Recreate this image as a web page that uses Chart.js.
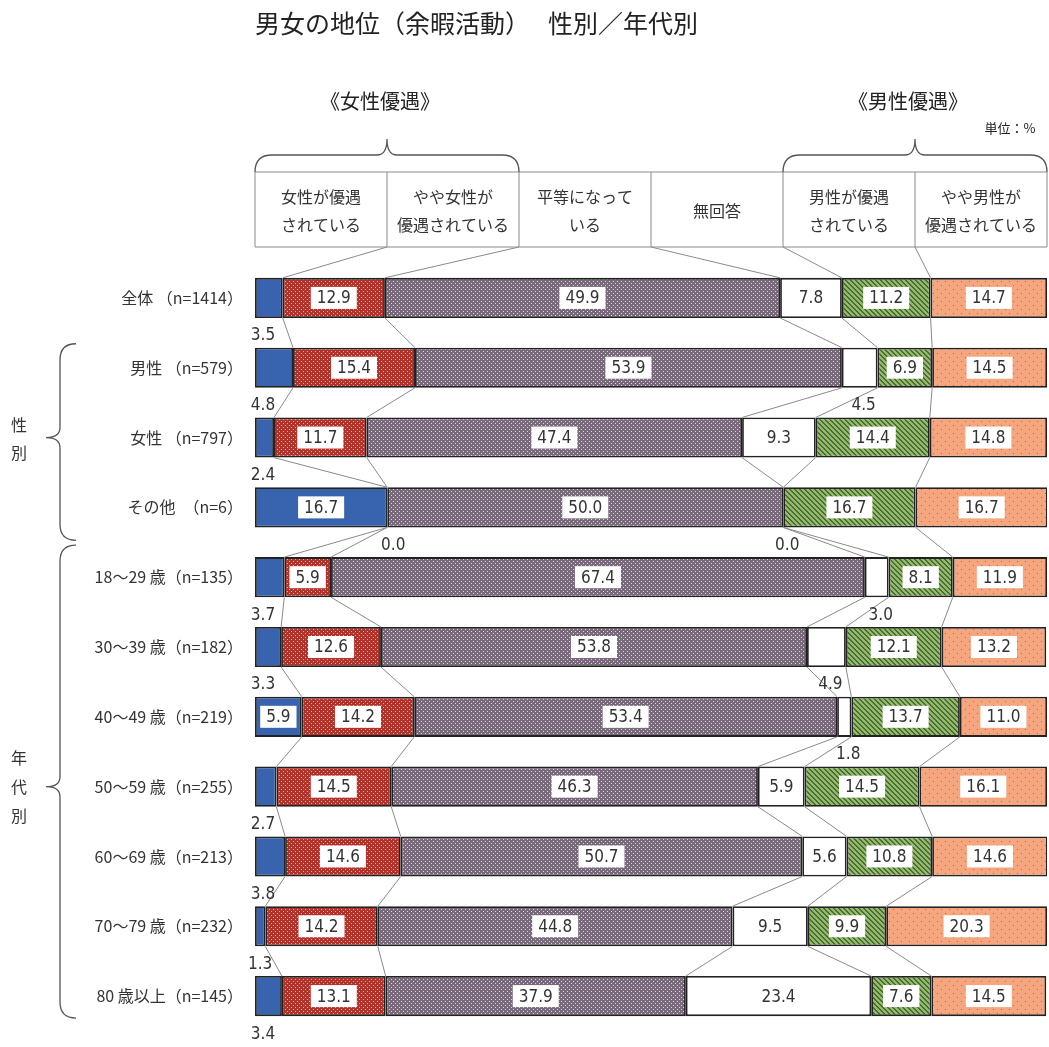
<!DOCTYPE html>
<html lang="ja">
<head>
<meta charset="utf-8">
<title>男女の地位（余暇活動）性別／年代別</title>
<script src="https://cdn.jsdelivr.net/npm/chart.js@4.4.0/dist/chart.umd.min.js"></script>
<style>
  html, body { margin: 0; padding: 0; background: #fff; }
  #wrap { position: relative; width: 1049px; height: 1047px; }
</style>
</head>
<body>
<div id="wrap"><canvas id="chart"></canvas></div>
<script>
// ---- data ----
const categories = [
  "全体 （n=1414）", "男性 （n=579）", "女性 （n=797）", "その他　（n=6）",
  "18～29 歳（n=135）", "30～39 歳（n=182）", "40～49 歳（n=219）", "50～59 歳（n=255）",
  "60～69 歳（n=213）", "70～79 歳（n=232）", "80 歳以上（n=145）"
];
const seriesNames = [
  ["女性が優遇", "されている"],
  ["やや女性が", "優遇されている"],
  ["平等になって", "いる"],
  ["無回答"],
  ["男性が優遇", "されている"],
  ["やや男性が", "優遇されている"]
];
const womenFavored   = [3.5, 4.8, 2.4, 16.7, 3.7, 3.3, 5.9, 2.7, 3.8, 1.3, 3.4];
const somewhatWomen  = [12.9, 15.4, 11.7, 0.0, 5.9, 12.6, 14.2, 14.5, 14.6, 14.2, 13.1];
const equalValues    = [49.9, 53.9, 47.4, 50.0, 67.4, 53.8, 53.4, 46.3, 50.7, 44.8, 37.9];
const noAnswer       = [7.8, 4.5, 9.3, 0.0, 3.0, 4.9, 1.8, 5.9, 5.6, 9.5, 23.4];
const menFavored     = [11.2, 6.9, 14.4, 16.7, 8.1, 12.1, 13.7, 14.5, 10.8, 9.9, 7.6];
const somewhatMen    = [14.7, 14.5, 14.8, 16.7, 11.9, 13.2, 11.0, 16.1, 14.6, 20.3, 14.5];

const allSeries = [womenFavored, somewhatWomen, equalValues, noAnswer, menFavored, somewhatMen];

// ---- fonts / colours ----
const JP = "'Noto Sans CJK JP', 'Noto Sans', sans-serif";
const NUM = "'DejaVu Sans Condensed', 'Liberation Sans Narrow', sans-serif";
const TEXT = "#333";
const LINE = "#8a8a8a";

const canvas = document.getElementById("chart");
const ctx0 = canvas.getContext("2d");

// small pixel tiles used as fill patterns
function pattern(size, bg, fg, hit) {
  const c = document.createElement("canvas");
  c.width = c.height = size;
  const g = c.getContext("2d");
  g.fillStyle = bg;
  g.fillRect(0, 0, size, size);
  g.fillStyle = fg;
  for (let y = 0; y < size; y++)
    for (let x = 0; x < size; x++)
      if (hit(x, y)) g.fillRect(x, y, 1, 1);
  return ctx0.createPattern(c, "repeat");
}

const fills = [
  "#3863ae",
  pattern(4, "#b0342b", "#e9aaa0", (x, y) => (x === 1 && y === 1) || (x === 3 && y === 3)),
  pattern(4, "#78697b", "#dcd3dd", (x, y) => (x === 1 && y === 1) || (x === 3 && y === 3)),
  "#ffffff",
  pattern(5, "#93b86f", "#4a6c2d", (x, y) => ((x - y + 10) % 5) < 2),
  pattern(8, "#f5a67e", "#c2623a", (x, y) => (x === 1 && y === 1) || (x === 5 && y === 5))
];

// ---- drawing helpers ----
function hBrace(ctx, x1, x2, xTip, yBase, yLine, yTip) {
  const r = yBase - yLine;
  ctx.beginPath();
  ctx.moveTo(x1, yBase);
  ctx.quadraticCurveTo(x1, yLine, x1 + r, yLine);
  ctx.lineTo(xTip - 10, yLine);
  ctx.quadraticCurveTo(xTip, yLine, xTip, yTip);
  ctx.quadraticCurveTo(xTip, yLine, xTip + 10, yLine);
  ctx.lineTo(x2 - r, yLine);
  ctx.quadraticCurveTo(x2, yLine, x2, yBase);
  ctx.stroke();
}

function vBrace(ctx, y1, y2, yTip, xBase, xLine, xTip) {
  const r = xBase - xLine;
  ctx.beginPath();
  ctx.moveTo(xBase, y1);
  ctx.quadraticCurveTo(xLine, y1, xLine, y1 + r);
  ctx.lineTo(xLine, yTip - 10);
  ctx.quadraticCurveTo(xLine, yTip, xTip, yTip);
  ctx.quadraticCurveTo(xLine, yTip, xLine, yTip + 10);
  ctx.lineTo(xLine, y2 - r);
  ctx.quadraticCurveTo(xLine, y2, xBase, y2);
  ctx.stroke();
}

function fmt(v) { return v.toFixed(1); }

function valueText(ctx, text, x, y, boxed) {
  ctx.font = "17px " + NUM;
  ctx.textAlign = "center";
  ctx.textBaseline = "middle";
  if (boxed) {
    const w = ctx.measureText(text).width + 12;
    ctx.fillStyle = "#fff";
    ctx.fillRect(x - w / 2, y - 11, w, 22);
  }
  ctx.fillStyle = TEXT;
  ctx.fillText(text, x, y + 1);
}

const decorations = {
  id: "decorations",
  afterDatasetsDraw(chart) {
    const ctx = chart.ctx;
    const xs = chart.scales.x;
    const ys = chart.scales.y;
    const left = xs.left, right = xs.right;
    const barH = chart.getDatasetMeta(0).data[0].height;
    const cum = (row, k) => allSeries.slice(0, k).reduce((s, a) => s + a[row], 0);

    ctx.save();

    // title
    ctx.fillStyle = "#222";
    ctx.textAlign = "left";
    ctx.textBaseline = "middle";
    ctx.font = "25px " + JP;
    ctx.fillText("男女の地位（余暇活動）　 性別／年代別", 255, 23);

    // group headings above the header table
    ctx.textAlign = "center";
    ctx.font = "20px " + JP;
    ctx.fillText("《女性優遇》", 380, 101);
    ctx.fillText("《男性優遇》", 908, 101);
    ctx.font = "13px " + JP;
    ctx.fillText("単位：%", 1010, 128);

    // header table
    const hTop = 172, hBot = 247;
    const cellX = k => xs.getPixelForValue(100 * k / 6);
    ctx.strokeStyle = LINE;
    ctx.lineWidth = 1;
    ctx.beginPath();
    ctx.moveTo(left, hTop); ctx.lineTo(right, hTop);
    ctx.moveTo(left, hBot); ctx.lineTo(right, hBot);
    for (let k = 0; k <= 6; k++) {
      ctx.moveTo(cellX(k), hTop); ctx.lineTo(cellX(k), hBot);
    }
    ctx.stroke();

    ctx.strokeStyle = "#555";
    ctx.lineWidth = 1.3;
    hBrace(ctx, cellX(0), cellX(2), cellX(1), hTop, 155, 139);
    hBrace(ctx, cellX(4), cellX(6), cellX(5), hTop, 155, 139);

    ctx.fillStyle = TEXT;
    ctx.font = "16px " + JP;
    seriesNames.forEach((lines, k) => {
      const cx = (cellX(k) + cellX(k + 1)) / 2;
      if (lines.length === 1) {
        ctx.fillText(lines[0], cx, 211);
      } else {
        ctx.fillText(lines[0], cx, 197);
        ctx.fillText(lines[1], cx, 225);
      }
    });

    // connectors: header -> first bar, then bar -> bar
    const rowY = i => ys.getPixelForValue(i);
    ctx.strokeStyle = LINE;
    ctx.lineWidth = 1;
    ctx.beginPath();
    for (let k = 1; k <= 5; k++) {
      ctx.moveTo(cellX(k), hBot);
      ctx.lineTo(xs.getPixelForValue(cum(0, k)), rowY(0) - barH / 2);
    }
    for (let i = 0; i < categories.length - 1; i++) {
      for (let k = 1; k <= 5; k++) {
        ctx.moveTo(xs.getPixelForValue(cum(i, k)), rowY(i) + barH / 2);
        ctx.lineTo(xs.getPixelForValue(cum(i + 1, k)), rowY(i + 1) - barH / 2);
      }
    }
    ctx.stroke();

    // value labels
    allSeries.forEach((arr, d) => {
      arr.forEach((v, i) => {
        const x0 = xs.getPixelForValue(cum(i, d));
        const x1 = xs.getPixelForValue(cum(i, d + 1));
        const cx = (x0 + x1) / 2;
        const cy = rowY(i);
        const below = cy + barH / 2 + 17;
        if (d === 0) {
          if (v >= 5) valueText(ctx, fmt(v), cx, cy, true);
          else valueText(ctx, fmt(v), Math.min(cx, x0 + 8), below, false);
        } else if (d === 3) {
          if (v >= 5) valueText(ctx, fmt(v), cx, cy, false);
          else valueText(ctx, fmt(v), cx + 4, below, false);
        } else if (v === 0) {
          valueText(ctx, fmt(v), x0 + 6, below, false);
        } else {
          valueText(ctx, fmt(v), cx, cy, true);
        }
      });
    });

    // row labels
    ctx.fillStyle = TEXT;
    ctx.textAlign = "right";
    ctx.font = "16px " + JP;
    categories.forEach((c, i) => ctx.fillText(c, 243, rowY(i)));

    // left braces and group names
    ctx.strokeStyle = "#555";
    ctx.lineWidth = 1.3;
    vBrace(ctx, rowY(1) - 24, rowY(3) + 33, rowY(2), 76, 60, 46);
    vBrace(ctx, rowY(4) - 32, rowY(10) + 22, rowY(7), 76, 60, 46);
    ctx.textAlign = "center";
    ctx.fillStyle = TEXT;
    ctx.font = "16px " + JP;
    ctx.fillText("性", 19, rowY(2) - 13);
    ctx.fillText("別", 19, rowY(2) + 15);
    ctx.fillText("年", 19, rowY(7) - 29);
    ctx.fillText("代", 19, rowY(7));
    ctx.fillText("別", 19, rowY(7) + 29);

    ctx.restore();
  }
};

new Chart(canvas, {
  type: "bar",
  data: {
    labels: categories,
    datasets: allSeries.map((arr, d) => ({
      label: seriesNames[d].join(""),
      data: arr,
      backgroundColor: fills[d],
      borderColor: "#222",
      borderWidth: c => (c.raw === 0 ? 0 : 1.8),
      borderSkipped: false,
      barPercentage: 0.575,
      categoryPercentage: 1.0
    }))
  },
  options: {
    responsive: true,
    maintainAspectRatio: false,
    animation: false,
    indexAxis: "y",
    layout: { padding: { left: 255, right: 2, top: 263, bottom: 16 } },
    plugins: {
      legend: { display: false },
      tooltip: { enabled: false }
    },
    scales: {
      x: { stacked: true, min: 0, max: 100, display: false },
      y: { stacked: true, display: false }
    }
  },
  plugins: [decorations]
});
</script>
</body>
</html>
